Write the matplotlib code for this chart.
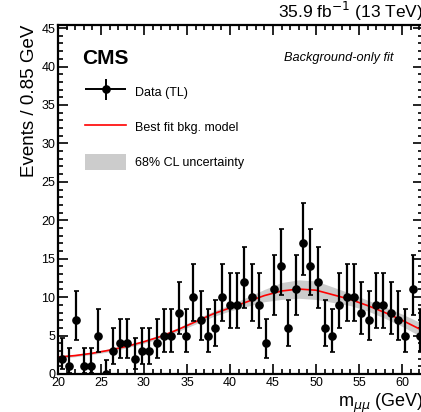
import numpy as np
import matplotlib
matplotlib.use("Agg")
import matplotlib.pyplot as plt
from matplotlib.patches import Patch
from matplotlib.legend_handler import HandlerErrorbar
from matplotlib.ticker import MultipleLocator

plt.rcParams['font.family'] = ['Liberation Sans', 'DejaVu Sans']

# observed counts in 50 bins of 0.85 GeV, 20 - 62.5 GeV
bin_width = 0.85
counts = [2, 1, 7, 1, 1, 5, 0, 3, 4, 4,
          2, 3, 3, 4, 5, 5, 8, 5, 10, 7,
          5, 6, 10, 9, 9, 12, 10, 9, 4, 11,
          14, 6, 11, 17, 14, 12, 6, 5, 9, 10,
          10, 8, 7, 9, 9, 8, 7, 5, 11, 5]

# background-only fit
fit_mass = [20, 22, 24, 26, 28, 30, 32, 34, 36, 38, 40, 42, 44, 46,
            48, 50, 52, 54, 56, 58, 60, 62.5]
fit_value = [2.2, 2.4, 2.7, 3.1, 3.6, 4.2, 4.9, 5.8, 6.8, 7.8, 8.6, 9.4,
             10.2, 10.8, 11.05, 10.9, 10.3, 9.7, 8.9, 8.0, 7.0, 5.6]
fit_err = [0.15, 0.15, 0.15, 0.2, 0.2, 0.2, 0.25, 0.25, 0.3, 0.35, 0.4,
           0.6, 0.8, 1.1, 1.2, 1.2, 1.0, 0.8, 0.7, 0.75, 0.8, 0.9]

n = np.array(counts, dtype=float)
centers = 20 + bin_width * (np.arange(len(n)) + 0.5)
# approximate Garwood (68%) intervals
lo = np.where(n > 0, np.sqrt(np.clip(n - 0.25, 0, None)), 0)
hi = np.sqrt(n + 0.75) + 1

fm = np.array(fit_mass)
fv = np.array(fit_value)
fe = np.array(fit_err)

fig = plt.figure(figsize=(4.21, 4.12), dpi=100)
ax = fig.add_axes([58 / 421, 38 / 412, 365.5 / 421, 349 / 412])

ax.fill_between(fm, fv - fe, fv + fe, color='#cccccc', lw=0, zorder=1)
ax.plot(fm, fv, color='red', lw=1.2, zorder=2)
ax.errorbar(centers, n, yerr=[lo, hi], fmt='o', color='black', ms=5.2,
            elinewidth=1.6, capsize=1.8, capthick=1.2, zorder=3)
# legend-only handle (cross without caps)
data_key = ax.errorbar([np.nan], [np.nan], xerr=1, yerr=1, fmt='o',
                       color='black', ms=5.2, elinewidth=1.4, capsize=0)

ax.set_xlim(20, 62.5)
ax.set_ylim(0, 45.4)
ax.xaxis.set_major_locator(MultipleLocator(5))
ax.xaxis.set_minor_locator(MultipleLocator(1))
ax.yaxis.set_major_locator(MultipleLocator(5))
ax.yaxis.set_minor_locator(MultipleLocator(1))
ax.tick_params(which='both', direction='in', top=True, right=True,
               labelsize=9, width=1.2, pad=2)
ax.tick_params(which='major', length=7)
ax.tick_params(which='minor', length=3.5)
for s in ax.spines.values():
    s.set_linewidth(1.6)

ax.set_ylabel('Events / 0.85 GeV', fontsize=13.5, loc='top', labelpad=2)
ax.set_xlabel(r'm$_{\mu\mu}$ (GeV)', fontsize=13, loc='right', labelpad=2)
ax.text(1.0, 1.005, r'35.9 fb$^{-1}$ (13 TeV)', transform=ax.transAxes,
        ha='right', va='bottom', fontsize=12.5)
ax.text(0.065, 0.905, 'CMS', transform=ax.transAxes, fontsize=15,
        fontweight='bold', va='center')
ax.text(0.917, 0.905, 'Background-only fit', transform=ax.transAxes,
        fontsize=9.2, style='italic', ha='right', va='center')

handles = [data_key,
           plt.Line2D([0], [0], color='red', lw=1.2),
           Patch(facecolor='#cccccc', edgecolor='none')]
ax.legend(handles, ['Data (TL)', 'Best fit bkg. model', '68% CL uncertainty'],
          loc='upper left', bbox_to_anchor=(0.06, 0.847), frameon=False,
          fontsize=9, handlelength=3.3, handleheight=1.6, labelspacing=1.55,
          handletextpad=0.7, borderaxespad=0,
          handler_map={type(data_key): HandlerErrorbar(xerr_size=1.65,
                                                       yerr_size=0.85)})

fig.savefig('out.png', dpi=100)
